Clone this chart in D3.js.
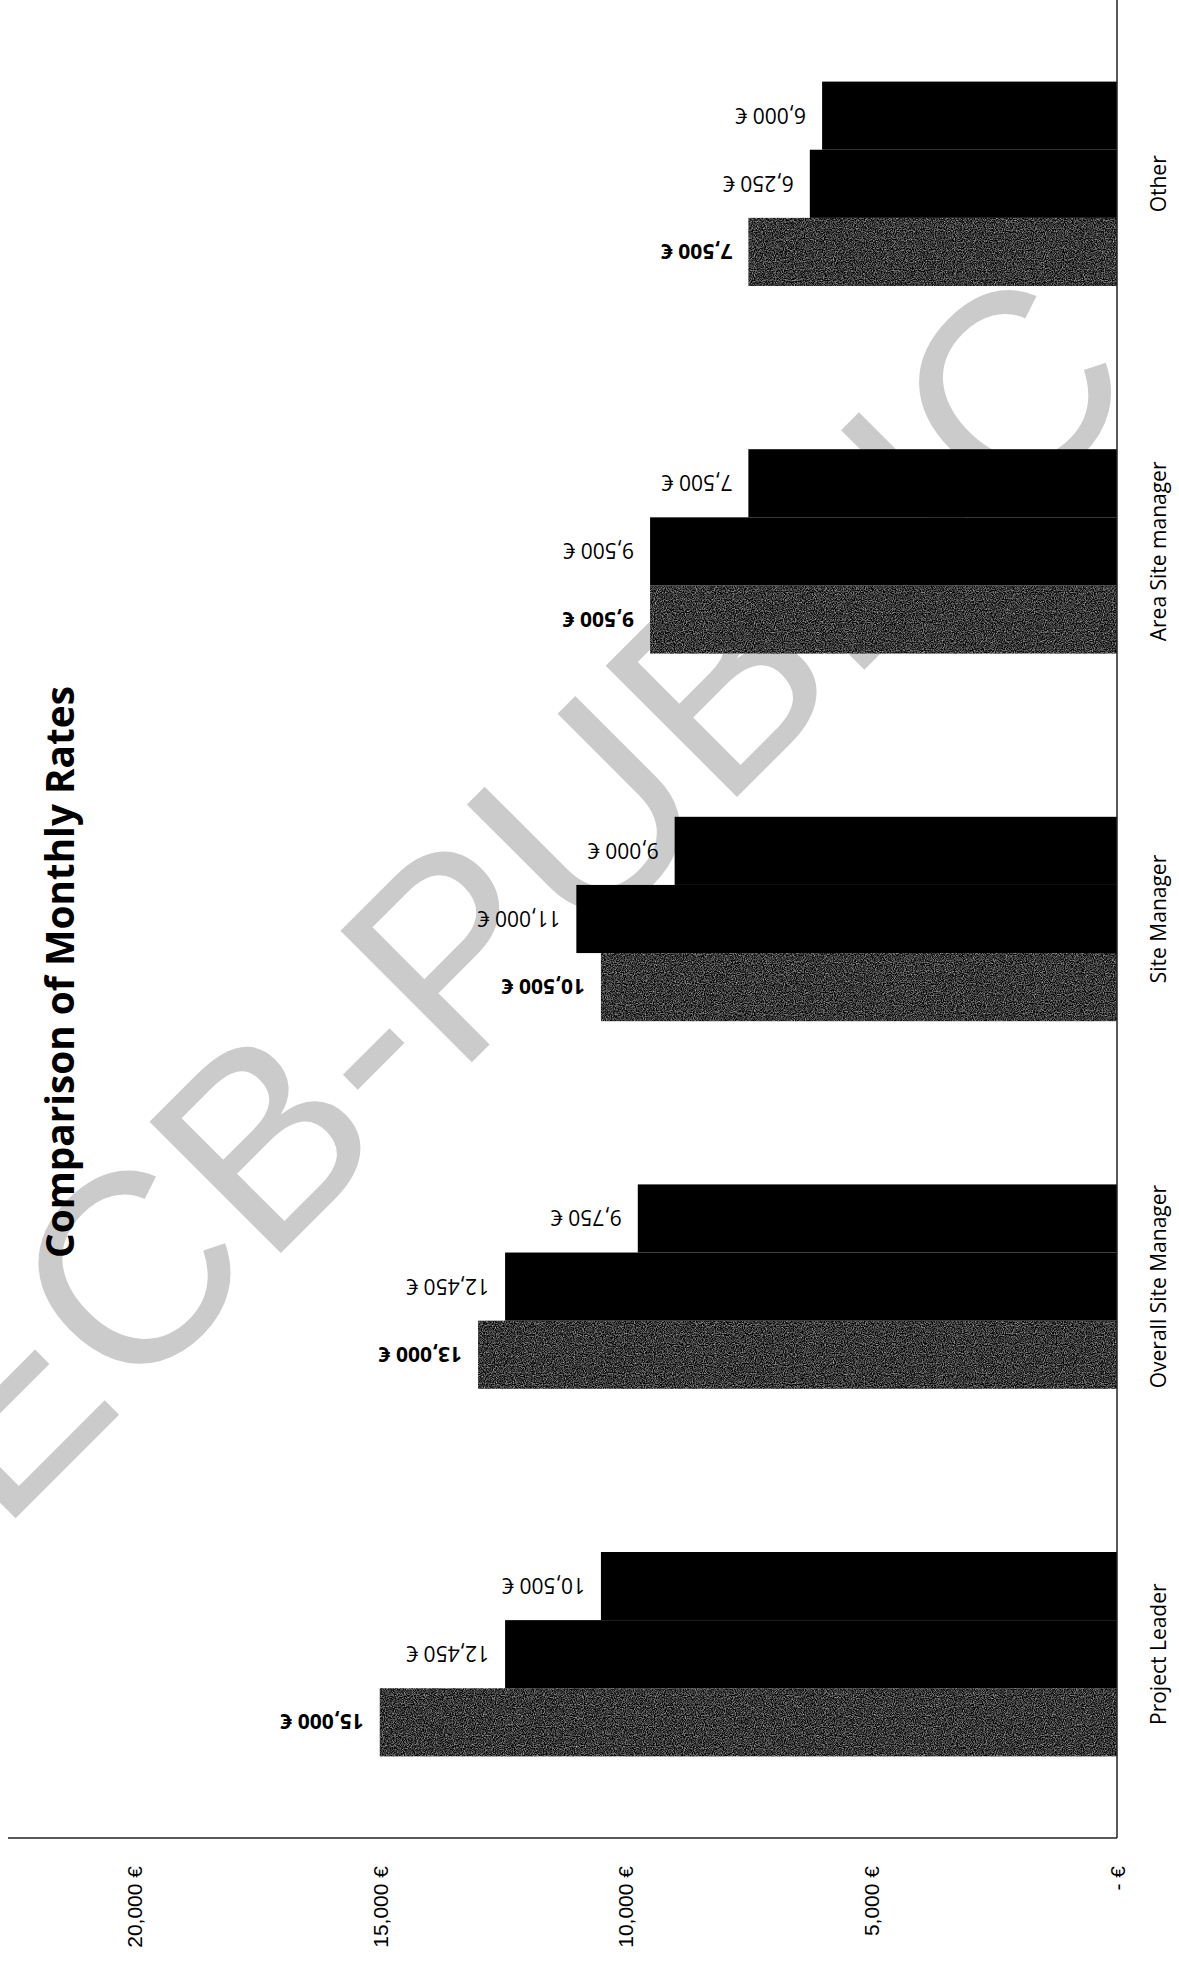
<!DOCTYPE html>
<html>
<head>
<meta charset="utf-8">
<script src="https://cdnjs.cloudflare.com/ajax/libs/d3/7.8.5/d3.min.js"></script>
<style>
  html, body { margin: 0; padding: 0; background: #fff; }
  svg { display: block; }
</style>
</head>
<body>
<svg></svg>
<script>
const width = 1179;
const height = 1962;

// values
const categories = ['Project Leader', 'Overall Site Manager', 'Site Manager', 'Area Site manager', 'Other'];
const rateSeries1 = [15000, 13000, 10500, 9500, 7500];
const rateSeries2 = [12450, 12450, 11000, 9500, 6250];
const rateSeries3 = [10500, 9750, 9000, 7500, 6000];
const valueTicks = [0, 5000, 10000, 15000, 20000];

const seriesList = [rateSeries1, rateSeries2, rateSeries3];

const baseX = 1117;
const axisY = 1838;

const svg = d3.select('svg')
  .attr('width', width)
  .attr('height', height);

// grainy fill for the first series (scanned look)
const defs = svg.append('defs');
const grain = defs.append('filter')
  .attr('id', 'grain')
  .attr('color-interpolation-filters', 'sRGB')
  .attr('x', 0).attr('y', 0)
  .attr('width', '100%').attr('height', '100%');
grain.append('feTurbulence')
  .attr('type', 'fractalNoise')
  .attr('baseFrequency', 0.9)
  .attr('numOctaves', 2)
  .attr('seed', 4)
  .attr('result', 'noise');
grain.append('feColorMatrix')
  .attr('in', 'noise')
  .attr('type', 'saturate')
  .attr('values', 0)
  .attr('result', 'gray');
const ct = grain.append('feComponentTransfer')
  .attr('in', 'gray')
  .attr('result', 'mapped');
['feFuncR', 'feFuncG', 'feFuncB'].forEach(f => {
  ct.append(f).attr('type', 'linear').attr('slope', 1.6).attr('intercept', -0.58);
});
ct.append('feFuncA').attr('type', 'linear').attr('slope', 0).attr('intercept', 1);
grain.append('feComposite')
  .attr('in', 'mapped')
  .attr('in2', 'SourceGraphic')
  .attr('operator', 'in');

// ====================================
// Watermark
// ====================================
svg.append('text')
  .text('ECB-PUBLIC')
  .attr('transform', 'translate(0, 1534) rotate(-45)')
  .attr('font-family', 'Liberation Sans, Arial, sans-serif')
  .attr('font-size', 270)
  .attr('fill', '#cbcbcb');

// ====================================
// Scales
// ====================================
const xScale = d3.scaleLinear()
  .domain([0, 20000])
  .range([baseX, 134]);

const yScale = d3.scaleBand()
  .domain(categories.slice().reverse())
  .range([0, axisY])
  .paddingInner(0.444)
  .paddingOuter(0.222);

const inner = d3.scaleBand()
  .domain([2, 1, 0])
  .range([0, yScale.bandwidth()]);

const fmt = v => v === 0 ? '-   €' : `${d3.format(',')(v)} €`;

// ====================================
// Bars
// ====================================
const groups = svg.selectAll('g.group')
  .data(categories)
  .enter()
  .append('g')
  .attr('class', 'group')
  .attr('transform', d => `translate(0, ${yScale(d)})`);

groups.selectAll('rect')
  .data((d, i) => seriesList.map((s, k) => ({ k, v: s[i] })))
  .enter()
  .append('rect')
  .attr('x', d => xScale(d.v))
  .attr('y', d => inner(d.k))
  .attr('width', d => baseX - xScale(d.v))
  .attr('height', inner.bandwidth())
  .attr('fill', d => d.k === 0 ? '#333' : '#000')
  .attr('filter', d => d.k === 0 ? 'url(#grain)' : null);

// data labels, printed upside down like the scan
groups.selectAll('text.lbl')
  .data((d, i) => seriesList.map((s, k) => ({ k, v: s[i] })))
  .enter()
  .append('text')
  .attr('class', 'lbl')
  .each(function (d) {
    const x = xScale(d.v) - 16;
    const y = inner(d.k) + inner.bandwidth() / 2;
    d3.select(this)
      .attr('x', x)
      .attr('y', y)
      .attr('transform', `rotate(180, ${x}, ${y})`);
  })
  .attr('text-anchor', 'start')
  .attr('dominant-baseline', 'central')
  .attr('font-family', 'Open Sans, sans-serif')
  .attr('font-size', 21)
  .attr('font-weight', d => d.k === 0 ? 'bold' : 'normal')
  .text(d => fmt(d.v));

// ====================================
// Axes
// ====================================
const xAxis = d3.axisBottom(xScale)
  .tickValues(valueTicks)
  .tickSize(0)
  .tickSizeOuter(0)
  .tickFormat(fmt);

const gx = svg.append('g')
  .attr('transform', `translate(0, ${axisY})`)
  .call(xAxis);

gx.select('.domain')
  .attr('d', `M8,0H${baseX}`)
  .attr('stroke', '#222')
  .attr('stroke-width', 1.5);

gx.selectAll('text')
  .attr('transform', 'rotate(-90)')
  .attr('x', -28)
  .attr('y', 0)
  .attr('dy', '0.35em')
  .attr('text-anchor', 'end')
  .attr('font-family', 'Liberation Sans, Arial, sans-serif')
  .attr('font-size', 21)
  .attr('fill', '#000');

svg.append('line')
  .attr('x1', baseX)
  .attr('x2', baseX)
  .attr('y1', 0)
  .attr('y2', axisY)
  .attr('stroke', '#222')
  .attr('stroke-width', 1.5);

// category labels
svg.selectAll('text.cat')
  .data(categories)
  .enter()
  .append('text')
  .attr('class', 'cat')
  .attr('transform', d => `translate(1158, ${yScale(d) + yScale.bandwidth() / 2}) rotate(-90)`)
  .attr('text-anchor', 'middle')
  .attr('dominant-baseline', 'central')
  .attr('font-family', 'Open Sans, sans-serif')
  .attr('font-size', 21)
  .text(d => d);

// =================================
// Title
// =================================
const title = svg.append('text')
  .text('Comparison of Monthly Rates')
  .attr('transform', 'translate(59, 972) rotate(-90)')
  .attr('text-anchor', 'middle')
  .attr('dominant-baseline', 'central')
  .attr('font-family', 'Open Sans, sans-serif')
  .attr('font-weight', 'bold')
  .attr('font-size', 100);

const titleLen = title.node().getComputedTextLength();
title.attr('font-size', 100 * 572 / titleLen);
</script>
</body>
</html>
